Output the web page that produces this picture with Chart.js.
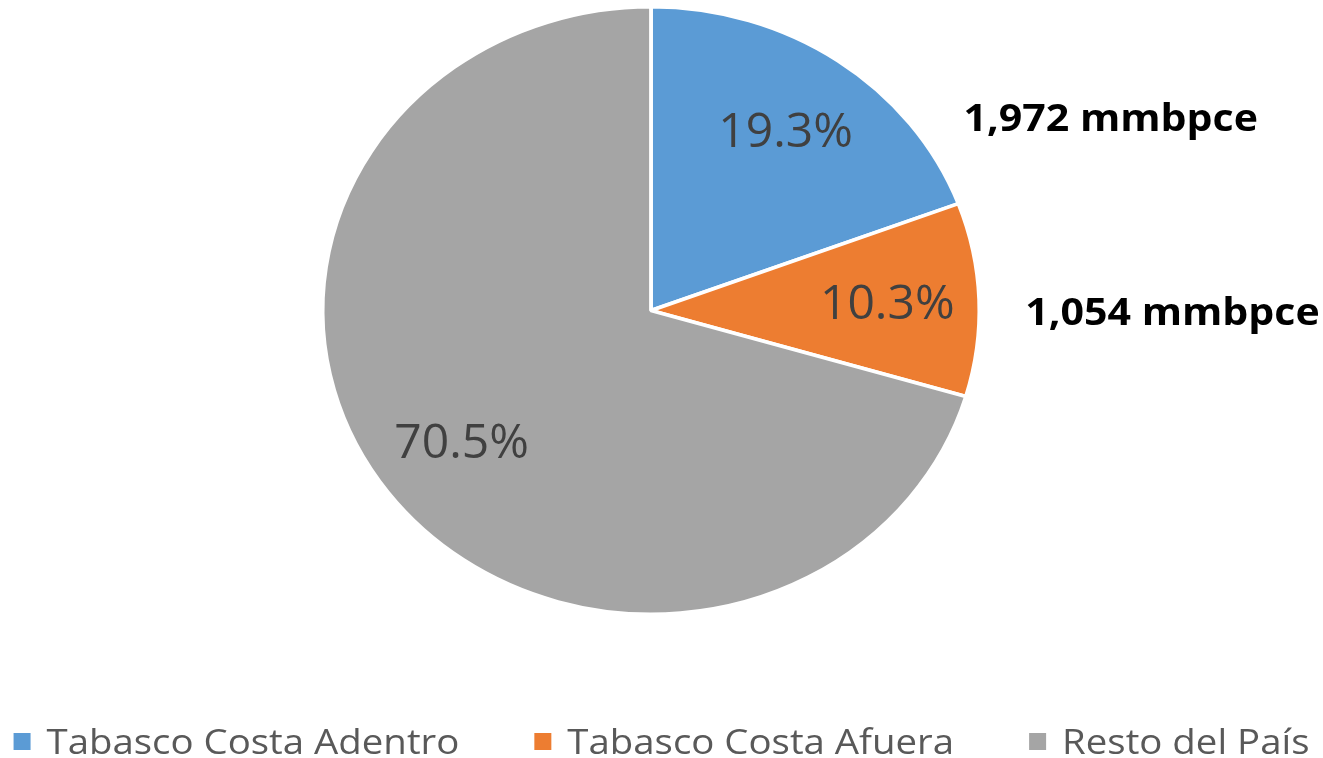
<!DOCTYPE html>
<html>
<head>
<meta charset="utf-8">
<script src="https://cdn.jsdelivr.net/npm/chart.js@4.4.1/dist/chart.umd.min.js"></script>
<style>
  html, body { margin: 0; padding: 0; background: #fff; }
  canvas { display: block; }
</style>
</head>
<body>
<canvas id="pieChart" width="1323" height="758"></canvas>
<script>
const categories = ["Tabasco Costa Adentro", "Tabasco Costa Afuera", "Resto del País"];
const shares = [19.3, 10.3, 70.5];          // percent of total
const volumes = [1972, 1054, null];         // mmbpce, only shown for Tabasco
const volumeUnit = "mmbpce";
const colors = ["#5B9BD5", "#ED7D31", "#A5A5A5"];

const SX = 1.081; // the original picture is a bit wider than tall
// where the volume callouts sit, in units of the pie radius from its centre
const calloutAt = [{ dx: 0.952, dy: -0.59 }, { dx: 1.14, dy: 0.048 }, null];

const canvas = document.getElementById("pieChart");
const ctx = canvas.getContext("2d");

const stretchPie = {
    id: "stretchPie",
    beforeDatasetsDraw(chart) {
        const { ctx, chartArea } = chart;
        const cx = (chartArea.left + chartArea.right) / 2;
        ctx.save();
        ctx.translate(cx, 0);
        ctx.scale(SX, 1);
        ctx.translate(-cx, 0);
    },
    afterDatasetsDraw(chart) {
        chart.ctx.restore();
    }
};

const sliceLabels = {
    id: "sliceLabels",
    afterDraw(chart) {
        const { ctx } = chart;
        const meta = chart.getDatasetMeta(0);

        meta.data.forEach((arc, i) => {
            const { x, y, startAngle, endAngle, outerRadius } =
                arc.getProps(["x", "y", "startAngle", "endAngle", "outerRadius"], true);
            const mid = (startAngle + endAngle) / 2;

            // percentage inside the slice
            ctx.save();
            ctx.translate(x + Math.cos(mid) * outerRadius * 0.72 * SX,
                          y + Math.sin(mid) * outerRadius * 0.72 + 3);
            ctx.font = "48px 'Open Sans'";
            ctx.fillStyle = "#404040";
            ctx.textAlign = "center";
            ctx.textBaseline = "middle";
            ctx.fillText(shares[i].toFixed(1) + "%", 0, 0);
            ctx.restore();

            // volume callout to the right
            if (volumes[i] != null) {
                const pos = calloutAt[i];
                ctx.save();
                ctx.translate(x + pos.dx * outerRadius * SX, y + pos.dy * outerRadius);
                ctx.scale(SX, 1);
                ctx.font = "bold 38px 'Open Sans'";
                ctx.fillStyle = "#000";
                ctx.textAlign = "left";
                ctx.textBaseline = "alphabetic";
                ctx.fillText(volumes[i].toLocaleString("en-US") + " " + volumeUnit, 0, 0);
                ctx.restore();
            }
        });
    }
};

// legend drawn by hand so the wide spacing of the original fits on one row
const wideLegend = {
    id: "wideLegend",
    afterDraw(chart) {
        const { ctx, width, height } = chart;
        const box = 17, gap = 16, itemGap = 75;
        const baseline = height - 4;

        ctx.save();
        ctx.font = "35.5px 'Open Sans'";
        const widths = categories.map(t => ctx.measureText(t).width * SX);
        const total = widths.reduce((s, w) => s + box + gap + w, 0) + itemGap * (categories.length - 1);
        let xPos = (width - total) / 2;

        categories.forEach((text, i) => {
            ctx.fillStyle = colors[i];
            ctx.fillRect(xPos, baseline - 21, box, box);
            ctx.save();
            ctx.translate(xPos + box + gap, baseline);
            ctx.scale(SX, 1);
            ctx.fillStyle = "#595959";
            ctx.textBaseline = "alphabetic";
            ctx.fillText(text, 0, 0);
            ctx.restore();
            xPos += box + gap + widths[i] + itemGap;
        });
        ctx.restore();
    }
};

const chart = new Chart(ctx, {
    type: "pie",
    data: {
        labels: categories,
        datasets: [{
            data: shares,
            backgroundColor: colors,
            borderColor: "#fff",
            borderWidth: 3.5
        }]
    },
    options: {
        responsive: false,
        animation: false,
        layout: { padding: { top: 5, bottom: 142, left: 0, right: 21 } },
        plugins: {
            legend: { display: false },
            tooltip: { enabled: false }
        }
    },
    plugins: [stretchPie, sliceLabels, wideLegend]
});
</script>
</body>
</html>
